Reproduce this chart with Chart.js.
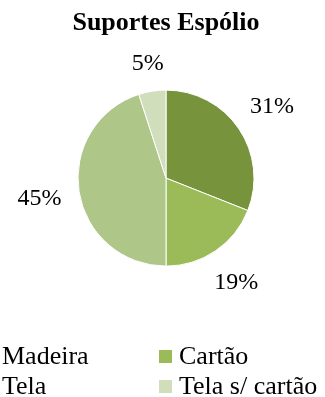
<!DOCTYPE html>
<html>
<head>
<meta charset="utf-8">
<script src="https://cdn.jsdelivr.net/npm/chart.js@4"></script>
<style>
  html, body { margin: 0; padding: 0; background: #fff; }
  #wrap { position: relative; width: 325px; height: 397px; overflow: hidden; }
  #pieChart { position: absolute; left: 0; top: 0; }
  .leg { position: absolute; font: 26px "Liberation Serif", "Times New Roman", serif; line-height: 30px; color: #000; white-space: nowrap; }
  .leg i { display: inline-block; width: 13px; height: 13px; margin-right: 7px; vertical-align: 1px; }
</style>
</head>
<body>
<div id="wrap">
  <canvas id="pieChart" width="325" height="397"></canvas>
  <div id="legend"></div>
</div>
<script>
var categories = ['Madeira', 'Cartão', 'Tela', 'Tela s/ cartão'];
var values = [31, 19, 45, 5]; // percentagens
var colors = ['#77933C', '#9BBB59', '#AFC689', '#D0DEBB'];

// etiquetas de percentagem fora da fatia
var outsideLabels = {
    id: 'outsideLabels',
    afterDatasetsDraw: function(chart) {
        var ctx = chart.ctx;
        var meta = chart.getDatasetMeta(0);
        ctx.save();
        ctx.font = '24px "Liberation Serif", "Times New Roman", serif';
        ctx.fillStyle = '#000';
        ctx.textAlign = 'center';
        ctx.textBaseline = 'middle';
        meta.data.forEach(function(arc, i) {
            var p = arc.getProps(['x', 'y', 'startAngle', 'endAngle', 'outerRadius'], true);
            var mid = (p.startAngle + p.endAngle) / 2;
            var dx = Math.cos(mid), dy = Math.sin(mid);
            var text = values[i] + '%';
            var w = ctx.measureText(text).width, h = 18;
            var dist = p.outerRadius + 17 + Math.abs(dx) * w / 2 + Math.abs(dy) * h / 2;
            ctx.fillText(text, p.x + dx * dist, p.y + dy * dist + 1);
        });
        ctx.restore();
    }
};

var ctx = document.getElementById('pieChart').getContext('2d');
var pieChart = new Chart(ctx, {
    type: 'pie',
    data: {
        labels: categories,
        datasets: [{
            data: values,
            backgroundColor: colors,
            borderColor: '#fff',
            borderWidth: 1,
            radius: 88
        }]
    },
    options: {
        responsive: false,
        animation: false,
        layout: {
            padding: { top: 0, bottom: 80, left: 7, right: 0 }
        },
        plugins: {
            legend: { display: false },
            tooltip: { enabled: false },
            title: {
                display: true,
                text: 'Suportes Espólio',
                color: '#000',
                font: { family: '"Liberation Serif", "Times New Roman", serif', size: 26, weight: 'bold' },
                padding: { top: 8, bottom: 0 }
            }
        }
    },
    plugins: [outsideLabels]
});

// legenda em duas colunas (a primeira coluna fica cortada à esquerda)
var legend = document.getElementById('legend');
var colX = [-18, 159];
var rowY = [341, 371];
categories.forEach(function(name, i) {
    var d = document.createElement('div');
    d.className = 'leg';
    d.style.left = colX[i % 2] + 'px';
    d.style.top = rowY[Math.floor(i / 2)] + 'px';
    d.innerHTML = '<i style="background:' + colors[i] + '"></i>' + name;
    legend.appendChild(d);
});
</script>
</body>
</html>
